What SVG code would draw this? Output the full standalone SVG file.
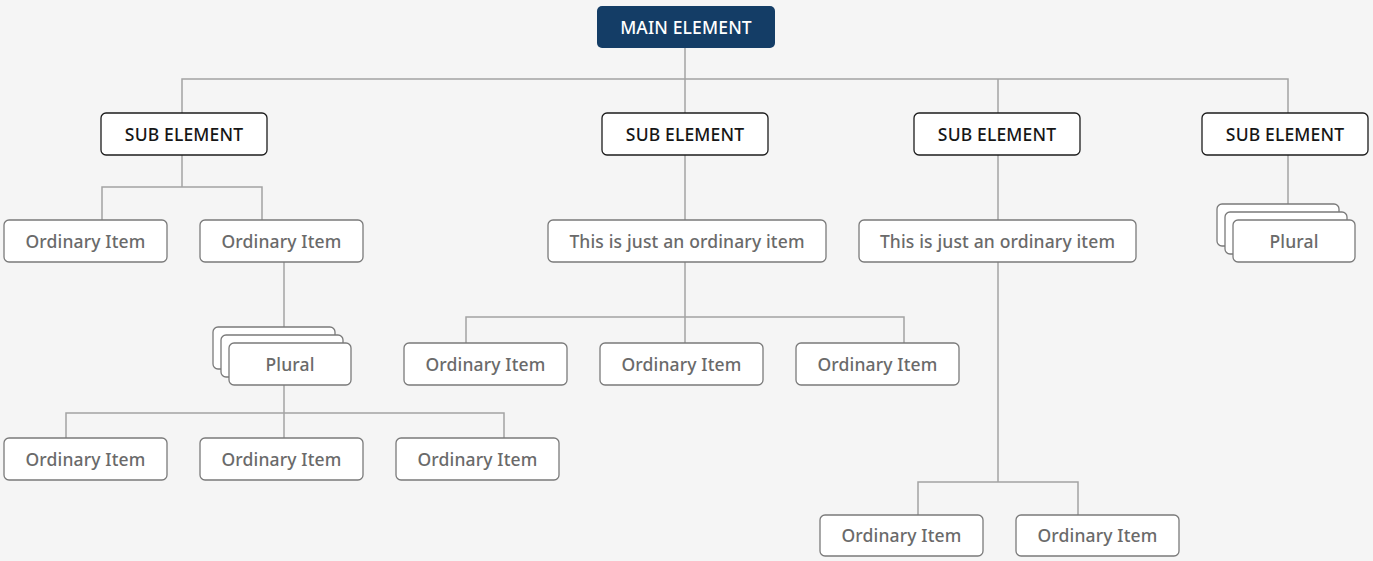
<svg xmlns="http://www.w3.org/2000/svg" width="1373" height="561" viewBox="0 0 1373 561">
<style>
.bg{fill:#f5f5f5}
.main rect{fill:#143d66;stroke:none}
.main text{fill:#ffffff}
.sub rect{fill:#ffffff;stroke:#1c1c1c;stroke-width:1.3}
.sub text{fill:#161616}
.item rect{fill:#ffffff;stroke:#7a7a7a;stroke-width:1.3}
.item text{fill:#6a6a6a}
text{font-family:"Noto Sans","Open Sans",sans-serif;font-size:17.5px;font-weight:500;letter-spacing:0.15px;text-anchor:middle}
.conn line,.conn polyline{stroke:#a3a3a3;stroke-width:1.5;fill:none}
</style>
<rect class="bg" x="0" y="0" width="1373" height="561"/>
<g id="connectors" class="conn">
<line x1="685" y1="48" x2="685" y2="113"/>
<polyline points="182,113 182,79 1288,79 1288,113"/>
<line x1="998" y1="79" x2="998" y2="113"/>
<line x1="182" y1="155" x2="182" y2="187"/>
<polyline points="102,220 102,187 262,187 262,220"/>
<line x1="284" y1="262" x2="284" y2="327"/>
<line x1="284" y1="385" x2="284" y2="438"/>
<polyline points="66,438 66,413 504,413 504,438"/>
<line x1="685" y1="155" x2="685" y2="220"/>
<line x1="685" y1="262" x2="685" y2="343"/>
<polyline points="466,343 466,317 904,317 904,343"/>
<line x1="998" y1="155" x2="998" y2="220"/>
<line x1="998" y1="262" x2="998" y2="482"/>
<polyline points="918,515 918,482 1078,482 1078,515"/>
<line x1="1288" y1="155" x2="1288" y2="204"/>
</g>
<g id="main" class="main"><rect x="597" y="6" width="178" height="42" rx="5"/><text x="686" y="34">MAIN ELEMENT</text></g>
<g id="sub1" class="sub"><rect x="101" y="113" width="166" height="42" rx="5"/><text x="184" y="141">SUB ELEMENT</text></g>
<g id="sub2" class="sub"><rect x="602" y="113" width="166" height="42" rx="5"/><text x="685" y="141">SUB ELEMENT</text></g>
<g id="sub3" class="sub"><rect x="914" y="113" width="166" height="42" rx="5"/><text x="997" y="141">SUB ELEMENT</text></g>
<g id="sub4" class="sub"><rect x="1202" y="113" width="166" height="42" rx="5"/><text x="1285" y="141">SUB ELEMENT</text></g>
<g id="item1" class="item"><rect x="4" y="220" width="163" height="42" rx="5"/><text x="85.5" y="248">Ordinary Item</text></g>
<g id="item2" class="item"><rect x="200" y="220" width="163" height="42" rx="5"/><text x="281.5" y="248">Ordinary Item</text></g>
<g id="plural1" class="item"><rect x="213" y="327" width="122" height="42" rx="5"/><rect x="221" y="335" width="122" height="42" rx="5"/><rect x="229" y="343" width="122" height="42" rx="5"/><text x="290" y="371">Plural</text></g>
<g id="item3" class="item"><rect x="4" y="438" width="163" height="42" rx="5"/><text x="85.5" y="466">Ordinary Item</text></g>
<g id="item4" class="item"><rect x="200" y="438" width="163" height="42" rx="5"/><text x="281.5" y="466">Ordinary Item</text></g>
<g id="item5" class="item"><rect x="396" y="438" width="163" height="42" rx="5"/><text x="477.5" y="466">Ordinary Item</text></g>
<g id="wide1" class="item"><rect x="548" y="220" width="278" height="42" rx="5"/><text x="687" y="248">This is just an ordinary item</text></g>
<g id="item6" class="item"><rect x="404" y="343" width="163" height="42" rx="5"/><text x="485.5" y="371">Ordinary Item</text></g>
<g id="item7" class="item"><rect x="600" y="343" width="163" height="42" rx="5"/><text x="681.5" y="371">Ordinary Item</text></g>
<g id="item8" class="item"><rect x="796" y="343" width="163" height="42" rx="5"/><text x="877.5" y="371">Ordinary Item</text></g>
<g id="wide2" class="item"><rect x="859" y="220" width="277" height="42" rx="5"/><text x="997.5" y="248">This is just an ordinary item</text></g>
<g id="item9" class="item"><rect x="820" y="515" width="163" height="41" rx="5"/><text x="901.5" y="542">Ordinary Item</text></g>
<g id="item10" class="item"><rect x="1016" y="515" width="163" height="41" rx="5"/><text x="1097.5" y="542">Ordinary Item</text></g>
<g id="plural2" class="item"><rect x="1217" y="204" width="122" height="42" rx="5"/><rect x="1225" y="212" width="122" height="42" rx="5"/><rect x="1233" y="220" width="122" height="42" rx="5"/><text x="1294" y="248">Plural</text></g>
</svg>
